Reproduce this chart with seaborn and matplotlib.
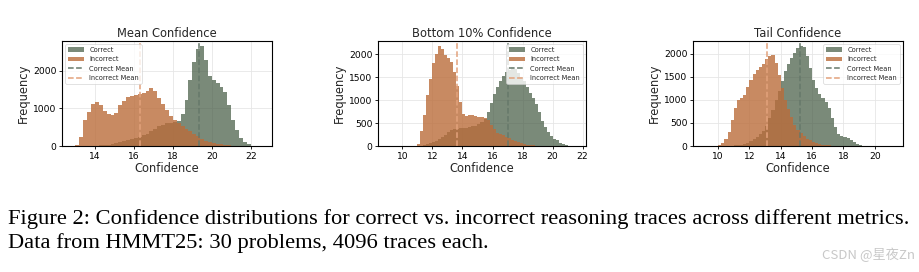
import numpy as np
import pandas as pd
import matplotlib
matplotlib.use("Agg")
import matplotlib.pyplot as plt
import seaborn as sns

# ---------------- data (bin heights, bin width 0.2) ----------------
titles = ["Mean Confidence", "Bottom 10% Confidence", "Tail Confidence"]
bin_width = 0.2

mean_start = 12.8
mean_correct = [0, 0, 0, 0, 0, 5, 10, 15, 25, 35, 50, 80, 100, 130, 160, 190, 210, 240, 280,
                330, 390, 450, 520, 570, 600, 620, 640, 660, 860, 1220, 1750, 2230, 2580, 2660,
                2300, 1860, 1750, 1680, 1580, 1430, 1100, 700, 430, 220, 110, 45, 10, 3, 0]
mean_incorrect = [0, 30, 250, 680, 900, 1120, 1160, 1080, 920, 860, 820, 880, 1080, 1200, 1300,
                  1330, 1350, 1380, 1410, 1450, 1530, 1450, 1280, 1120, 950, 800, 680, 600, 520,
                  450, 390, 330, 270, 180, 130, 100, 80, 60, 45, 30, 20, 10, 5, 0, 0, 0, 0, 0, 0]

bottom_start = 9.0
bottom_correct = [0, 0, 0, 0, 0, 0, 0, 0, 0, 0, 5, 10, 20, 35, 55, 85, 115, 145, 185, 250, 310,
                  350, 365, 375, 385, 390, 395, 405, 425, 445, 480, 520, 590, 730, 930, 1140, 1280,
                  1410, 1520, 1600, 1660, 1720, 1680, 1590, 1500, 1410, 1290, 1150, 1040, 910, 730,
                  550, 410, 310, 215, 160, 120, 75, 45, 22, 8, 3, 0]
bottom_incorrect = [0, 0, 0, 0, 0, 0, 0, 0, 0, 0, 40, 330, 680, 1120, 1460, 1800, 2000, 2175,
                    2120, 1980, 1920, 1820, 1600, 1300, 950, 700, 650, 665, 665, 660, 640, 620,
                    600, 560, 460, 360, 290, 255, 235, 195, 165, 135, 105, 80, 60, 45, 30, 20, 14,
                    10, 6, 4, 0, 0, 0, 0, 0, 0, 0, 0, 0, 0, 0]

tail_start = 9.0
tail_correct = [0, 0, 0, 0, 0, 0, 0, 0, 5, 8, 12, 18, 30, 50, 75, 105, 145, 195, 250, 320, 430,
                600, 790, 990, 1200, 1420, 1620, 1770, 1900, 2020, 2120, 2170, 2140, 1950, 1700,
                1440, 1250, 1120, 1040, 960, 820, 600, 410, 260, 215, 200, 180, 140, 90, 40, 12,
                4, 0, 0, 0, 0, 0, 0, 0, 0, 0]
tail_incorrect = [0, 0, 0, 0, 0, 20, 55, 150, 310, 560, 820, 990, 1040, 1110, 1290, 1430, 1570,
                  1640, 1710, 1780, 1880, 1950, 1980, 1800, 1530, 1260, 1000, 800, 630, 460, 350,
                  280, 210, 160, 120, 90, 65, 45, 30, 20, 12, 8, 5, 0, 0, 0, 0, 0, 0, 0, 0, 0,
                  0, 0, 0, 0, 0, 0, 0, 0, 0]

correct_means = [19.36, 17.04, 15.21]
incorrect_means = [16.31, 13.61, 13.15]
legend_locs = ["upper left", "upper right", "upper right"]
legend_order = ["Correct", "Incorrect", "Correct Mean", "Incorrect Mean"]

caption_line1 = ("Figure 2: Confidence distributions for correct vs. incorrect reasoning traces "
                 "across different metrics.")
caption_line2 = "Data from HMMT25: 30 problems, 4096 traces each."
watermark = "CSDN @星夜Zn"

# ---------------- styling ----------------
sns.set_theme(style="whitegrid")
plt.rcParams["font.family"] = ["DejaVu Sans"]
plt.rcParams.update({
    "axes.edgecolor": "black",
    "axes.linewidth": 0.8,
    "grid.color": "#e6e6e6",
    "grid.linewidth": 0.6,
    "xtick.bottom": True,
    "ytick.left": True,
    "xtick.major.size": 2.5,
    "ytick.major.size": 2.5,
    "xtick.major.width": 0.6,
    "ytick.major.width": 0.6,
    "xtick.major.pad": 1.5,
    "ytick.major.pad": 1.5,
    "xtick.color": "black",
    "ytick.color": "black",
})

c_correct = "#425841"
c_incorrect = "#bb6d3b"
c_correct_line = "#66786a"
c_incorrect_line = "#e3a27c"

W, H = 920, 272
fig = plt.figure(figsize=(W / 100, H / 100), dpi=100)

ax_px = [(62, 41, 272, 146), (378, 41, 586, 146), (693, 41, 903, 146)]
panels = [
    (mean_start, mean_correct, mean_incorrect),
    (bottom_start, bottom_correct, bottom_incorrect),
    (tail_start, tail_correct, tail_incorrect),
]

for i, (start, corr, inc) in enumerate(panels):
    x0, y0, x1, y1 = ax_px[i]
    ax = fig.add_axes([x0 / W, 1 - y1 / H, (x1 - x0) / W, (y1 - y0) / H])
    n = len(corr)
    edges = [float(e) for e in (start + bin_width * np.arange(n + 1))]
    centers = [(edges[k] + edges[k + 1]) / 2 for k in range(n)]
    df = pd.DataFrame({"conf": centers, "correct": corr, "incorrect": inc})
    sns.histplot(data=df, x="conf", weights="correct", bins=edges, color=c_correct, alpha=0.7,
                 label="Correct", ax=ax, edgecolor="none", linewidth=0)
    sns.histplot(data=df, x="conf", weights="incorrect", bins=edges, color=c_incorrect, alpha=0.8,
                 label="Incorrect", ax=ax, edgecolor="none", linewidth=0)
    ax.axvline(correct_means[i], color=c_correct_line, linestyle="--", linewidth=1.1,
               label="Correct Mean")
    ax.axvline(incorrect_means[i], color=c_incorrect_line, linestyle="--", linewidth=1.1,
               label="Incorrect Mean")
    ax.set_title(titles[i], fontsize=8.3, pad=3)
    ax.set_xlabel("Confidence", fontsize=8.3, labelpad=1)
    ax.set_ylabel("Frequency", fontsize=8.3, labelpad=2)
    ax.tick_params(labelsize=6.6)
    ax.grid(True, alpha=1.0)
    ax.set_axisbelow(True)
    handles, labels = ax.get_legend_handles_labels()
    lookup = dict(zip(labels, handles))
    leg = ax.legend([lookup[k] for k in legend_order], legend_order, loc=legend_locs[i],
                    fontsize=4.8, frameon=True, framealpha=0.8,
                    borderpad=0.4, labelspacing=0.5, handlelength=2.4)
    leg.get_frame().set_edgecolor("#cccccc")
    leg.get_frame().set_linewidth(0.5)

fig.text(8 / W, 1 - 224 / H, caption_line1, family="Liberation Serif", fontsize=16.2,
         color="black", va="baseline", ha="left")
fig.text(8 / W, 1 - 248 / H, caption_line2, family="Liberation Serif", fontsize=16.2,
         color="black", va="baseline", ha="left")
fig.text(915 / W, 1 - 259 / H, watermark, family=["Noto Sans CJK SC", "DejaVu Sans"],
         fontsize=9.5, color="#c8c8c8", va="baseline", ha="right")

fig.savefig("out.png", dpi=100, facecolor="white")
